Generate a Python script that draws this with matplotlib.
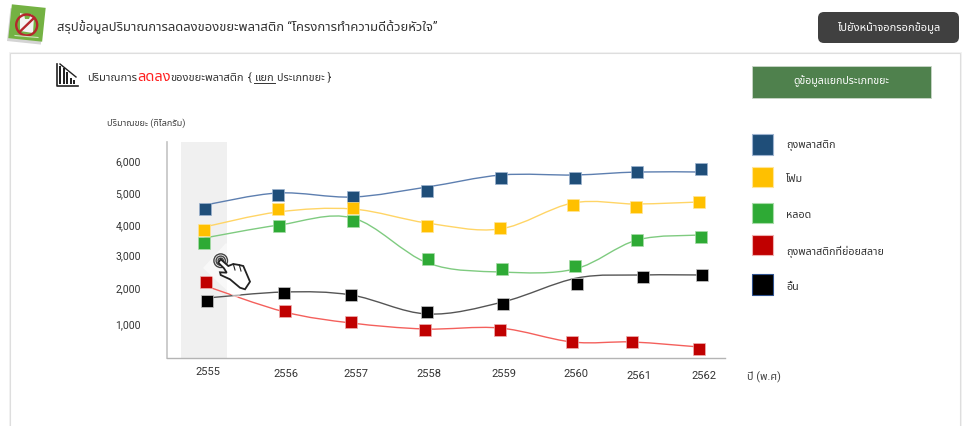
import matplotlib
matplotlib.use("Agg")
import matplotlib.pyplot as plt
from matplotlib.patches import Rectangle, FancyBboxPatch, PathPatch, Circle, Polygon
from matplotlib.path import Path
from matplotlib.transforms import Affine2D, ScaledTranslation

plt.rcParams['font.family'] = ['Roboto', 'Noto Sans Thai', 'DejaVu Sans']

W, H = 966, 426

year_ticks = [2555, 2556, 2557, 2558, 2559, 2560, 2561, 2562]
year_label_x = [2555.04, 2556.15, 2557.13, 2558.17, 2559.23, 2560.25, 2561.14, 2562.06]
value_ticks = [1000, 2000, 3000, 4000, 5000, 6000]
value_labels = ['1,000', '2,000', '3,000', '4,000', '5,000', '6,000']

# ปีของจุดแต่ละชุด (จุดในภาพไม่ตรงแนวปีเป๊ะ)
bag_x = [2555.00, 2556.03, 2557.09, 2558.14, 2559.19, 2560.23, 2561.11, 2562.01]
foam_x = [2554.99, 2556.03, 2557.09, 2558.14, 2559.17, 2560.20, 2561.10, 2561.99]
straw_x = [2554.99, 2556.05, 2557.09, 2558.15, 2559.20, 2560.23, 2561.11, 2562.01]
bio_x = [2555.01, 2556.13, 2557.07, 2558.11, 2559.17, 2560.19, 2561.04, 2561.99]
other_x = [2555.03, 2556.12, 2557.07, 2558.14, 2559.21, 2560.26, 2561.19, 2562.03]

bag_points = [4561, 4989, 4928, 5112, 5510, 5510, 5693, 5785]
foam_points = [3918, 4561, 4592, 4041, 3979, 4683, 4622, 4775]
straw_points = [3520, 4041, 4194, 3030, 2724, 2816, 3612, 3704]
bio_points = [2326, 1439, 1102, 857, 857, 490, 490, 275]
other_points = [1745, 1990, 1928, 1408, 1653, 2265, 2479, 2541]

bag_line = [4683, 5051, 4928, 5234, 5602, 5602, 5693, 5693]
foam_line = [4010, 4469, 4561, 4132, 3949, 4745, 4714, 4775]
straw_line = [3673, 4071, 4285, 2908, 2632, 2724, 3612, 3765]
bio_line = [2204, 1408, 1071, 888, 918, 490, 490, 337]
other_line = [1837, 2020, 1928, 1347, 1714, 2449, 2541, 2541]

legend_labels = ['ถุงพลาสติก', 'โฟม', 'หลอด', 'ถุงพลาสติกที่ย่อยสลาย', 'อื่น']


def smooth(ax, xs, ys, color):
    # เส้นโค้งแบบ catmull-rom ให้ matplotlib วาดเป็น bezier
    verts = [(xs[0], ys[0])]
    codes = [Path.MOVETO]
    n = len(xs)
    for i in range(n - 1):
        a = max(i - 1, 0)
        d = min(i + 2, n - 1)
        verts.append((xs[i] + (xs[i + 1] - xs[a]) / 6, ys[i] + (ys[i + 1] - ys[a]) / 6))
        verts.append((xs[i + 1] - (xs[d] - xs[i]) / 6, ys[i + 1] - (ys[d] - ys[i]) / 6))
        verts.append((xs[i + 1], ys[i + 1]))
        codes += [Path.CURVE4, Path.CURVE4, Path.CURVE4]
    ax.add_patch(PathPatch(Path(verts, codes), fill=False, edgecolor=color, lw=1.0, zorder=3))


fig = plt.figure(figsize=(W / 100, H / 100), dpi=100, facecolor='white')

# พื้นหลังทั้งภาพ ใช้พิกัดเป็นพิกเซล
bg = fig.add_axes([0, 0, 1, 1])
bg.set_xlim(0, W)
bg.set_ylim(H, 0)
bg.axis('off')

# การ์ดสีขาว
bg.add_patch(Rectangle((8.5, 52), 953, 400, fc='#f3f3f3', ec='none'))
bg.add_patch(Rectangle((10, 53), 950, 400, fc='white', ec='#dedede', lw=0.8))

# โลโก้
rot = Affine2D().rotate_deg_around(27, 23, 6) + bg.transData
bg.add_patch(Rectangle((10, 8), 34, 33, fc='#d4d4d4', ec='none',
                       transform=Affine2D().translate(-1, 2).rotate_deg_around(27, 23, 6) + bg.transData))
bg.add_patch(Rectangle((10, 6), 34, 34, fc='#74b243', ec='none', transform=rot))
bg.add_patch(Polygon([(20, 13), (24, 14), (25, 19), (29, 19), (31, 14), (34, 17), (33, 33), (20, 31)],
                     fc='#f4f4f4', ec='none'))
bg.add_patch(Circle((26.7, 25), 10.5, fc='none', ec='#b5262c', lw=1.7))
bg.plot([19.5, 34], [32, 18], color='#b5262c', lw=1.7)
bg.plot([15, 38], [35.5, 37.5], color='#cfe3bb', lw=0.8)

bg.text(57, 27, 'สรุปข้อมูลปริมาณการลดลงของขยะพลาสติก “โครงการทำความดีด้วยหัวใจ”',
        fontsize=9.4, color='#333333', va='center')

# ปุ่มด้านบน
bg.add_patch(FancyBboxPatch((821, 15), 135, 25, boxstyle='round,pad=3,rounding_size=6', fc='#404040', ec='none'))
bg.text(889, 27, 'ไปยังหน้าจอกรอกข้อมูล', fontsize=8, color='white', ha='center', va='center')

# ไอคอนกราฟ
bg.plot([56.5, 56.5, 78], [64, 86, 86], color='#222222', lw=1.2)
for x0, top in [(59, 66), (62.5, 68), (66, 72), (69.5, 78), (73, 80)]:
    bg.add_patch(Rectangle((x0, top), 2.3, 84 - top, fc='#222222', ec='none'))
bg.plot([60, 76], [64, 77], color='#222222', lw=1.0)

bg.text(87, 78, 'ปริมาณการ', fontsize=8, color='#333333', va='center')
bg.text(137, 77, 'ลดลง', fontsize=10.5, color='#ff2020', va='center', fontweight='bold')
bg.text(170, 78, 'ของขยะพลาสติก', fontsize=8, color='#333333', va='center')
bg.text(248, 78, '{', fontsize=8, color='#333333', va='center')
bg.text(255, 78, 'แยก', fontsize=8, color='#333333', va='center', style='italic')
bg.plot([254, 275], [83, 83], color='#333333', lw=0.7)
bg.text(277, 78, 'ประเภทขยะ }', fontsize=7.8, color='#333333', va='center')

# ปุ่มสีเขียว
bg.add_patch(Rectangle((752, 66), 179, 32, fc='#4f814d', ec='#c9d6c8', lw=0.6))
bg.text(841, 81, 'ดูข้อมูลแยกประเภทขยะ', fontsize=7.6, color='white', ha='center', va='center')

bg.text(107, 123, 'ปริมาณขยะ (กิโลกรัม)', fontsize=6.6, color='#444444', va='center')
bg.text(747, 377, 'ปี (พ.ศ)', fontsize=7.8, color='#444444', va='center')

# กราฟ
ax = fig.add_axes([167 / W, 1 - 358 / H, 558 / W, 216 / H], facecolor='none')
ax.set_xlim(2555 - 38 / 70.71, 2555 + 520 / 70.71)
ax.set_ylim(0, 6612)
for s in ['top', 'right']:
    ax.spines[s].set_visible(False)
ax.spines['left'].set_color('#c4c4c4')
ax.spines['left'].set_linewidth(1.2)
ax.spines['bottom'].set_color('#b4b4b4')
ax.spines['bottom'].set_linewidth(1.0)
ax.set_xticks([])
ax.set_yticks(value_ticks)
ax.set_yticklabels(value_labels, fontsize=7.5, color='#333333')
ax.tick_params(axis='y', length=0, pad=18.7)
# ป้ายแกน y ในต้นฉบับไม่ได้อยู่ตรงสเกลทุกตัว
for lab, shift in zip(ax.get_yticklabels(), [1, 4, 5, 2, 1, 1]):
    lab.set_transform(lab.get_transform() + ScaledTranslation(0, shift / 100, fig.dpi_scale_trans))

# แถบเน้นปี 2555
ax.axvspan(2555 - 24 / 70.71, 2555 + 22 / 70.71, color='#f0f0f0', zorder=0, lw=0)

series = [
    (bag_x, bag_line, bag_points, '#1f4e79', '#5d7fb0', '#9db3d0'),
    (foam_x, foam_line, foam_points, '#ffc000', '#ffd566', '#ffe599'),
    (straw_x, straw_line, straw_points, '#2eaa35', '#7fcb80', '#a8dca8'),
    (bio_x, bio_line, bio_points, '#c00000', '#f4605c', '#eeb0b0'),
    (other_x, other_line, other_points, '#000000', '#555555', '#c8c8c8'),
]
for xs, line, points, col, line_col, edge in series:
    smooth(ax, xs, line, line_col)
    ax.plot(xs, points, ls='none', marker='s', ms=9.2, mfc=col, mec=edge, mew=0.5, zorder=4)

for yr, xpos in zip(year_ticks, year_label_x):
    # ป้ายปีวางไม่เท่ากันตามภาพต้นฉบับ
    dy = -14 if yr == 2555 else (-18 if yr > 2560 else -16)
    ax.annotate(str(yr), (xpos, 0), xytext=(0, dy), textcoords='offset pixels',
                ha='center', va='center', fontsize=8, color='#333333', annotation_clip=False)

# มือชี้
hand = fig.add_axes([0, 0, 1, 1], facecolor='none')
hand.set_xlim(0, W)
hand.set_ylim(H, 0)
hand.axis('off')
hand.add_patch(Polygon([(203, 268), (226, 243), (259, 276), (236, 299)], fc='white', ec='none', alpha=0.55))
for r in [6.8, 4.6, 2.6]:
    hand.add_patch(Circle((220.7, 260.7), r, fc='none', ec='#444444', lw=1.0))
hand.add_patch(Polygon([(220.7, 259.3), (228.3, 266), (233.3, 264), (239.3, 265), (243.3, 266), (250, 281.7),
                        (245, 289.3), (240, 287.7), (230, 279.3), (220.7, 275), (220, 272.3),
                        (226.7, 272.7), (224, 268.3), (218.3, 262.7)],
                       fc='white', ec='#222222', lw=1.3))
hand.plot([233.3, 235], [264, 270], color='#222222', lw=0.8)
hand.plot([239.3, 241], [265, 271], color='#222222', lw=0.8)

# คำอธิบาย
legend_y = [(134, 155), (167, 187), (203, 223), (235, 255), (274, 295)]
legend_text_y = [145.5, 179.5, 215.5, 251.5, 287.5]
for (y0, y1), ty, name, s in zip(legend_y, legend_text_y, legend_labels, series):
    bg.add_patch(Rectangle((752, y0), 21, y1 - y0, fc=s[3], ec=s[5] if s[3] != '#000000' else '#2f528f', lw=0.8))
    bg.text(786, ty, name, fontsize=7.7, color='#333333', va='center')

fig.savefig('out.png', dpi=100)
